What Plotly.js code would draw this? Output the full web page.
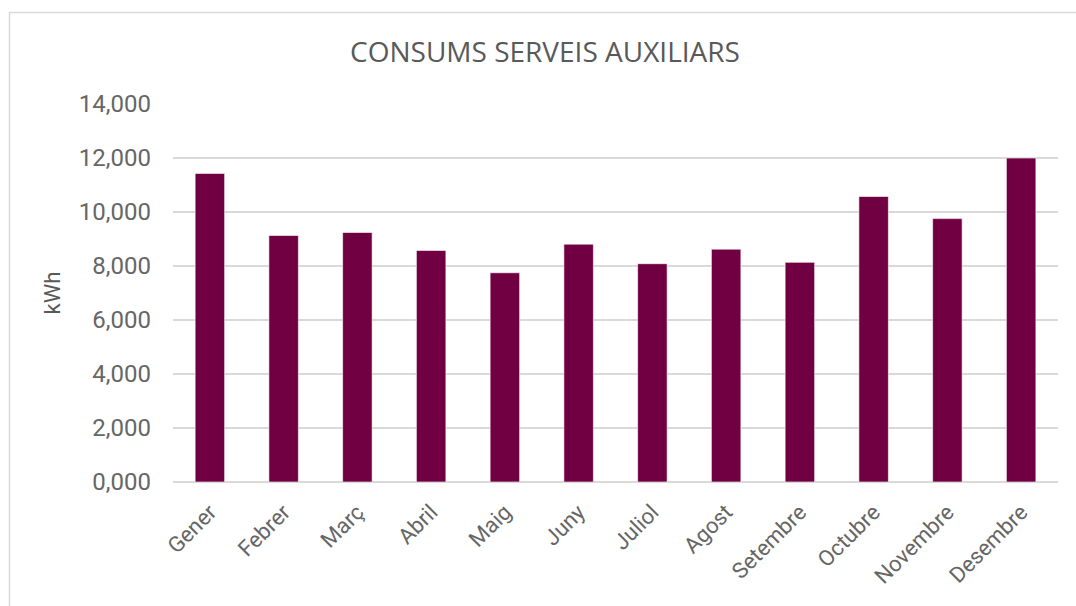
<!DOCTYPE html>
<html>
<head>
<meta charset="utf-8">
<script src="https://cdn.plot.ly/plotly-3.0.1.min.js"></script>
<style>
html,body{margin:0;padding:0;background:#fff;}
#chart{width:1076px;height:606px;}
</style>
</head>
<body>
<div id="chart"></div>
<script>
const months = ["Gener","Febrer","Març","Abril","Maig","Juny","Juliol","Agost","Setembre","Octubre","Novembre","Desembre"];
const consum = [11430, 9130, 9240, 8575, 7750, 8810, 8085, 8625, 8135, 10575, 9755, 12000];
const yTickVals = [0, 2000, 4000, 6000, 8000, 10000, 12000, 14000];
const yTickText = ["0,000","2,000","4,000","6,000","8,000","10,000","12,000","14,000"];

const L = 173, R = 18, T = 104, B = 124, W = 1076, H = 606;
const pw = W - L - R, ph = H - T - B;
function px(x){ return (x - L) / pw; }
function py(y){ return (H - B - y) / ph; }

const trace = {
  type: 'bar',
  x: months,
  y: consum,
  marker: {color: '#700042', line: {color: '#ffffff', width: 0.6}},
  hoverinfo: 'x+y'
};

const layout = {
  width: W, height: H,
  margin: {l: L, r: R, t: T, b: B, pad: 0},
  paper_bgcolor: '#ffffff',
  plot_bgcolor: '#ffffff',
  bargap: 0.6,
  showlegend: false,
  title: {
    text: 'CONSUMS SERVEIS AUXILIARS',
    font: {family: 'Open Sans, sans-serif', size: 28, color: '#595959'},
    x: 545/W, xanchor: 'center',
    y: 1 - 52/H, yanchor: 'middle'
  },
  xaxis: {
    type: 'category',
    tickangle: -45,
    tickfont: {family: 'Roboto, sans-serif', size: 22, color: '#666666'},
    showgrid: false,
    showline: false,
    zeroline: false,
    ticks: '',
    ticklabelstandoff: 12,
    fixedrange: true
  },
  yaxis: {
    range: [0, 14000],
    tickvals: yTickVals,
    ticktext: yTickText,
    tickfont: {family: 'Roboto, sans-serif', size: 24, color: '#666666'},
    showgrid: true,
    gridcolor: '#d9d9d9',
    gridwidth: 1.5,
    zeroline: true,
    zerolinecolor: '#d9d9d9',
    zerolinewidth: 1.5,
    showline: false,
    ticks: '',
    ticklabelstandoff: 21,
    title: {text: 'kWh', font: {family: 'Roboto, sans-serif', size: 22, color: '#595959'}, standoff: 12},
    fixedrange: true
  },
  shapes: [{
    type: 'rect', xref: 'paper', yref: 'paper',
    x0: px(9.5), x1: px(1090), y0: py(620), y1: py(12.5),
    line: {color: '#d9d9d9', width: 1.5},
    fillcolor: 'rgba(0,0,0,0)',
    layer: 'below'
  }]
};

Plotly.newPlot('chart', [trace], layout, {displayModeBar: false, staticPlot: true});
</script>
</body>
</html>
